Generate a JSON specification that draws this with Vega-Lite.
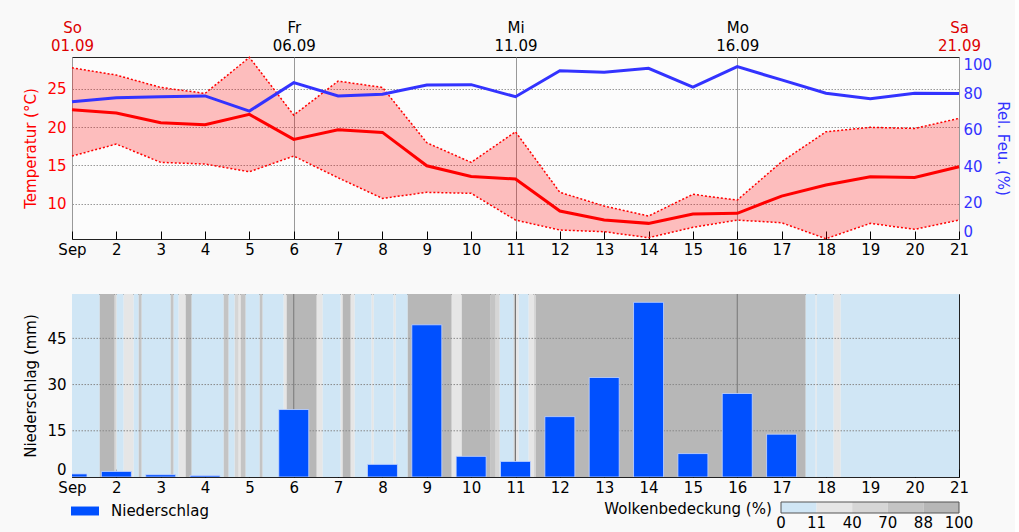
{
  "$schema": "https://vega.github.io/schema/vega-lite/v6.json",
  "background": "#f9f9f9",
  "padding": {"left": 22, "top": 19, "right": 5, "bottom": 0},
  "config": {
    "font": "DejaVu Sans",
    "view": {"stroke": "#222", "strokeWidth": 1, "fill": "#fcfcfc"},
    "axis": {"labelFont": "DejaVu Sans", "titleFont": "DejaVu Sans", "labelFontSize": 15, "titleFontSize": 15, "titleFontWeight": "normal", "labelColor": "#000", "titleColor": "#000", "domain": false, "ticks": false, "grid": false, "labelFlush": false, "labelOverlap": false}
  },
  "datasets": {
    "days": [
      {"day": 1, "tmean": 22.26, "tmax": 27.74, "tmin": 16.22, "hum": 75.4},
      {"day": 2, "tmean": 21.83, "tmax": 26.79, "tmin": 17.79, "hum": 77.6},
      {"day": 3, "tmean": 20.57, "tmax": 25.18, "tmin": 15.4, "hum": 78.2},
      {"day": 4, "tmean": 20.3, "tmax": 24.4, "tmin": 15.18, "hum": 78.6},
      {"day": 5, "tmean": 21.66, "tmax": 29.1, "tmin": 14.17, "hum": 70.3},
      {"day": 6, "tmean": 18.4, "tmax": 21.57, "tmin": 16.22, "hum": 85.9},
      {"day": 7, "tmean": 19.65, "tmax": 26.0, "tmin": 13.39, "hum": 78.6},
      {"day": 8, "tmean": 19.31, "tmax": 25.18, "tmin": 10.7, "hum": 79.5},
      {"day": 9, "tmean": 14.96, "tmax": 17.96, "tmin": 11.49, "hum": 84.6},
      {"day": 10, "tmean": 13.57, "tmax": 15.4, "tmin": 11.36, "hum": 84.8},
      {"day": 11, "tmean": 13.22, "tmax": 19.39, "tmin": 7.87, "hum": 78.2},
      {"day": 12, "tmean": 9.05, "tmax": 11.49, "tmin": 6.57, "hum": 92.5},
      {"day": 13, "tmean": 7.87, "tmax": 9.7, "tmin": 6.35, "hum": 91.6},
      {"day": 14, "tmean": 7.44, "tmax": 8.4, "tmin": 5.57, "hum": 93.8},
      {"day": 15, "tmean": 8.66, "tmax": 11.23, "tmin": 6.92, "hum": 83.5},
      {"day": 16, "tmean": 8.75, "tmax": 10.48, "tmin": 7.87, "hum": 94.7},
      {"day": 17, "tmean": 11.0, "tmax": 15.48, "tmin": 7.52, "hum": 87.4},
      {"day": 18, "tmean": 12.44, "tmax": 19.39, "tmin": 5.44, "hum": 80.1},
      {"day": 19, "tmean": 13.52, "tmax": 19.97, "tmin": 7.44, "hum": 77.1},
      {"day": 20, "tmean": 13.44, "tmax": 19.83, "tmin": 6.66, "hum": 80.1},
      {"day": 21, "tmean": 14.83, "tmax": 21.14, "tmin": 7.87, "hum": 79.9}
    ],
    "precip": [
      {"day": 1, "mm": 1.0}, {"day": 2, "mm": 1.8}, {"day": 3, "mm": 0.75}, {"day": 4, "mm": 0.5},
      {"day": 6, "mm": 21.9}, {"day": 8, "mm": 4.1}, {"day": 9, "mm": 49.4}, {"day": 10, "mm": 6.7},
      {"day": 11, "mm": 5.05}, {"day": 12, "mm": 19.6}, {"day": 13, "mm": 32.3}, {"day": 14, "mm": 56.7},
      {"day": 15, "mm": 7.6}, {"day": 16, "mm": 27.1}, {"day": 17, "mm": 13.9}
    ],
    "vgrid": [{"day": 6}, {"day": 11}, {"day": 16}],
    "hgrid": [{"mm": 15}, {"mm": 30}, {"mm": 45}],
    "bins": [
      {"i0": 0, "i1": 1, "cat": "0-11"},
      {"i0": 1, "i1": 2, "cat": "11-40"},
      {"i0": 2, "i1": 3, "cat": "40-70"},
      {"i0": 3, "i1": 4, "cat": "70-88"},
      {"i0": 4, "i1": 5, "cat": "88-100"}
    ],
    "binlabels": [
      {"pos": 0, "lab": "0"}, {"pos": 1, "lab": "11"}, {"pos": 2, "lab": "40"},
      {"pos": 3, "lab": "70"}, {"pos": 4, "lab": "88"}, {"pos": 5, "lab": "100"}
    ],
    "clouds": [
      {"start": 1.0, "end": 1.625, "cat": "0-11"},
      {"start": 1.625, "end": 1.963, "cat": "88-100"},
      {"start": 1.963, "end": 2.008, "cat": "40-70"},
      {"start": 2.008, "end": 2.166, "cat": "0-11"},
      {"start": 2.166, "end": 2.391, "cat": "11-40"},
      {"start": 2.391, "end": 2.504, "cat": "0-11"},
      {"start": 2.504, "end": 2.572, "cat": "70-88"},
      {"start": 2.572, "end": 3.225, "cat": "0-11"},
      {"start": 3.225, "end": 3.293, "cat": "70-88"},
      {"start": 3.293, "end": 3.406, "cat": "0-11"},
      {"start": 3.406, "end": 3.564, "cat": "11-40"},
      {"start": 3.564, "end": 3.699, "cat": "88-100"},
      {"start": 3.699, "end": 4.421, "cat": "0-11"},
      {"start": 4.421, "end": 4.533, "cat": "70-88"},
      {"start": 4.533, "end": 4.669, "cat": "0-11"},
      {"start": 4.669, "end": 4.759, "cat": "40-70"},
      {"start": 4.759, "end": 4.804, "cat": "11-40"},
      {"start": 4.804, "end": 4.917, "cat": "70-88"},
      {"start": 4.917, "end": 5.232, "cat": "0-11"},
      {"start": 5.232, "end": 5.3, "cat": "70-88"},
      {"start": 5.3, "end": 5.774, "cat": "0-11"},
      {"start": 5.774, "end": 5.841, "cat": "11-40"},
      {"start": 5.841, "end": 6.518, "cat": "88-100"},
      {"start": 6.518, "end": 6.653, "cat": "11-40"},
      {"start": 6.653, "end": 7.059, "cat": "0-11"},
      {"start": 7.059, "end": 7.104, "cat": "11-40"},
      {"start": 7.104, "end": 7.285, "cat": "88-100"},
      {"start": 7.285, "end": 7.375, "cat": "11-40"},
      {"start": 7.375, "end": 7.758, "cat": "0-11"},
      {"start": 7.758, "end": 7.803, "cat": "11-40"},
      {"start": 7.803, "end": 8.254, "cat": "0-11"},
      {"start": 8.254, "end": 8.299, "cat": "11-40"},
      {"start": 8.299, "end": 8.57, "cat": "0-11"},
      {"start": 8.57, "end": 9.562, "cat": "88-100"},
      {"start": 9.562, "end": 9.788, "cat": "11-40"},
      {"start": 9.788, "end": 10.442, "cat": "88-100"},
      {"start": 10.442, "end": 10.554, "cat": "70-88"},
      {"start": 10.554, "end": 10.645, "cat": "40-70"},
      {"start": 10.645, "end": 10.96, "cat": "0-11"},
      {"start": 10.96, "end": 11.005, "cat": "70-88"},
      {"start": 11.005, "end": 11.073, "cat": "11-40"},
      {"start": 11.073, "end": 11.298, "cat": "0-11"},
      {"start": 11.298, "end": 11.411, "cat": "11-40"},
      {"start": 11.411, "end": 11.456, "cat": "40-70"},
      {"start": 11.456, "end": 17.544, "cat": "88-100"},
      {"start": 17.544, "end": 17.769, "cat": "0-11"},
      {"start": 17.769, "end": 17.792, "cat": "11-40"},
      {"start": 17.792, "end": 18.175, "cat": "0-11"},
      {"start": 18.175, "end": 18.333, "cat": "11-40"},
      {"start": 18.333, "end": 21.0, "cat": "0-11"}
    ]
  },
  "vconcat": [
    {
      "width": 887,
      "height": 182,
      "data": {"name": "days"},
      "layer": [
        {
          "layer": [
            {
              "mark": {"type": "area", "color": "#ff0000", "opacity": 0.25},
              "encoding": {
                "x": {"field": "day", "type": "quantitative", "scale": {"domain": [1, 21], "nice": false, "zero": false},
                  "axis": {"values": [1,2,3,4,5,6,7,8,9,10,11,12,13,14,15,16,17,18,19,20,21], "labelExpr": "datum.value == 1 ? 'Sep' : '' + datum.value", "title": null, "ticks": true, "tickSize": -8, "tickColor": "#000", "tickWidth": 1, "labelPadding": 11}},
                "y": {"field": "tmax", "type": "quantitative", "scale": {"domain": [5.4, 29.15], "nice": false, "zero": false},
                  "axis": {"values": [10, 15, 20, 25], "title": "Temperatur (°C)", "titleColor": "#ff0000", "labelColor": "#ff0000", "grid": true, "gridColor": "#999", "gridDash": [1.5, 1.5], "gridWidth": 1, "titleX": -42, "titleY": 91, "titleBaseline": "middle", "titleAngle": 270, "labelPadding": 6}},
                "y2": {"field": "tmin"}
              }
            },
            {
              "mark": {"type": "line", "color": "#ff0000", "strokeWidth": 1.5, "strokeDash": [2, 2]},
              "encoding": {"x": {"field": "day", "type": "quantitative"}, "y": {"field": "tmax", "type": "quantitative"}}
            },
            {
              "mark": {"type": "line", "color": "#ff0000", "strokeWidth": 1.5, "strokeDash": [2, 2]},
              "encoding": {"x": {"field": "day", "type": "quantitative"}, "y": {"field": "tmin", "type": "quantitative"}}
            },
            {
              "mark": {"type": "line", "color": "#ff0000", "strokeWidth": 3},
              "encoding": {"x": {"field": "day", "type": "quantitative"}, "y": {"field": "tmean", "type": "quantitative"}}
            }
          ]
        },
        {
          "mark": {"type": "line", "color": "#3333ff", "strokeWidth": 3},
          "encoding": {
            "x": {"field": "day", "type": "quantitative",
              "axis": {"orient": "top", "values": [1, 6, 11, 16, 21], "labelExpr": "datum.value == 1 ? ['So', '01.09'] : datum.value == 6 ? ['Fr', '06.09'] : datum.value == 11 ? ['Mi', '11.09'] : datum.value == 16 ? ['Mo', '16.09'] : ['Sa', '21.09']", "labelColor": {"condition": {"test": "datum.value == 1 || datum.value == 21", "value": "#dd0000"}, "value": "#000"}, "labelLineHeight": 18, "labelPadding": 22, "grid": true, "gridColor": "#999", "gridWidth": 1, "title": null}},
            "y": {"field": "hum", "type": "quantitative", "scale": {"domain": [0, 100], "nice": false},
              "axis": {"orient": "right", "values": [0, 20, 40, 60, 80, 100], "title": "Rel. Feu. (%)", "titleColor": "#3333ff", "labelColor": "#3333ff", "labelFlush": true, "titleX": 43, "titleY": 91, "titleBaseline": "middle", "titleAngle": 90, "labelPadding": 4}}
          }
        }
      ],
      "resolve": {"scale": {"y": "independent"}, "axis": {"x": "independent", "y": "independent"}}
    },
    {
      "width": 887,
      "height": 183,
      "layer": [
        {
          "layer": [
            {
              "data": {"name": "clouds"},
              "mark": {"type": "rect"},
              "encoding": {
                "x": {"field": "start", "type": "quantitative", "scale": {"domain": [1, 21], "nice": false, "zero": false, "padding": 0},
                  "axis": {"values": [1,2,3,4,5,6,7,8,9,10,11,12,13,14,15,16,17,18,19,20,21], "labelExpr": "datum.value == 1 ? 'Sep' : '' + datum.value", "title": null, "ticks": true, "tickSize": -8, "tickColor": "#000", "tickWidth": 1, "labelPadding": 11}},
                "x2": {"field": "end"},
                "fill": {"field": "cat", "type": "nominal", "scale": {"domain": ["0-11", "11-40", "40-70", "70-88", "88-100"], "range": ["#d0e6f5", "#e6e6e6", "#d6d6d6", "#c4c4c4", "#b7b7b7"]}, "legend": null}
              }
            },
            {
              "data": {"name": "vgrid"},
              "mark": {"type": "rule", "color": "#777", "strokeWidth": 1},
              "encoding": {"x": {"field": "day", "type": "quantitative"}}
            },
            {
              "data": {"name": "hgrid"},
              "mark": {"type": "rule", "color": "#888", "strokeWidth": 1, "strokeDash": [1.5, 1.5]},
              "encoding": {"y": {"field": "mm", "type": "quantitative", "scale": {"domain": [0, 59.4], "nice": false, "zero": true},
                "axis": {"values": [0, 15, 30, 45], "title": "Niederschlag (mm)", "labelFlush": true, "titleX": -42, "titleY": 91.5, "titleBaseline": "middle", "titleAngle": 270, "labelPadding": 6}}}
            },
            {
              "data": {"name": "precip"},
              "mark": {"type": "bar", "size": 30, "clip": true, "stroke": "#c8d8ff", "strokeWidth": 0.8},
              "encoding": {
                "x": {"field": "day", "type": "quantitative"},
                "y": {"field": "mm", "type": "quantitative"},
                "color": {"datum": "Niederschlag", "type": "nominal", "scale": {"range": ["#0050ff"]},
                  "legend": {"orient": "none", "legendX": -1, "legendY": 440, "title": null, "symbolType": "M-1,-0.32H1V0.32H-1Z", "symbolSize": 784, "symbolStrokeWidth": 0, "labelFontSize": 15, "labelFont": "DejaVu Sans", "labelColor": "#000", "labelOffset": 12, "padding": 0}}
              }
            }
          ]
        },
        {
          "layer": [
            {
              "data": {"name": "bins"},
              "mark": {"type": "rect"},
              "encoding": {
                "x": {"field": "i0", "type": "quantitative", "scale": {"domain": [0, 5], "range": [709, 887], "nice": false, "zero": false}, "axis": null},
                "x2": {"field": "i1"},
                "y": {"datum": 0, "type": "quantitative", "scale": {"domain": [0, 1], "range": [219, 208], "nice": false, "zero": false}, "axis": null},
                "y2": {"datum": 1},
                "fill": {"field": "cat", "type": "nominal", "scale": {"domain": ["0-11", "11-40", "40-70", "70-88", "88-100"], "range": ["#d0e6f5", "#e6e6e6", "#d6d6d6", "#c4c4c4", "#b7b7b7"]}, "legend": null}
              }
            },
            {
              "data": {"values": [{"a": 0, "b": 5}]},
              "mark": {"type": "rect", "filled": false, "color": "#555", "strokeWidth": 1},
              "encoding": {"x": {"field": "a", "type": "quantitative"}, "x2": {"field": "b"}, "y": {"datum": 0, "type": "quantitative"}, "y2": {"datum": 1}}
            },
            {
              "data": {"name": "binlabels"},
              "mark": {"type": "text", "fontSize": 15, "font": "DejaVu Sans", "color": "#000", "baseline": "middle", "align": "center"},
              "encoding": {"x": {"field": "pos", "type": "quantitative"}, "y": {"datum": -0.92, "type": "quantitative"}, "text": {"field": "lab"}}
            },
            {
              "data": {"values": [{"t": "Wolkenbedeckung (%)", "pos": -0.26}]},
              "mark": {"type": "text", "fontSize": 15, "font": "DejaVu Sans", "color": "#000", "baseline": "middle", "align": "right"},
              "encoding": {"x": {"field": "pos", "type": "quantitative"}, "y": {"datum": 0.36, "type": "quantitative"}, "text": {"field": "t"}}
            }
          ]
        }
      ],
      "resolve": {"scale": {"x": "independent", "y": "independent"}}
    }
  ],
  "spacing": 55,
  "bounds": "flush"
}
